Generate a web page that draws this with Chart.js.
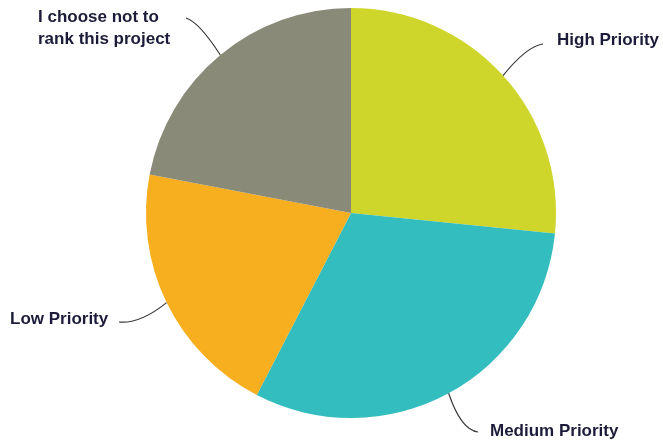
<!DOCTYPE html>
<html>
<head>
<meta charset="utf-8">
<script src="https://cdn.jsdelivr.net/npm/chart.js@4"></script>
<style>
  html, body { margin: 0; padding: 0; background: #fff; }
  #wrap { width: 663px; height: 442px; position: relative; }
</style>
</head>
<body>
<div id="wrap"><canvas id="graph"></canvas></div>
<script>
// categories clockwise from 12 o'clock
const categorias = ['High Priority', 'Medium Priority', 'Low Priority', 'I choose not to rank this project'];
const valores = [26.6, 31.0, 20.4, 22.0];
const colores = ['#ced62c', '#34bdbe', '#f7ae1f', '#8a8a78'];

// where each label sits and how its leader line bends
const etiquetas = [
    { lineas: ['High Priority'], x: 557, y: 45, fin: [543, 44], ctrl: [527, 46] },
    { lineas: ['Medium Priority'], x: 490, y: 436, fin: [478, 432], ctrl: [461, 430] },
    { lineas: ['Low Priority'], x: 10, y: 324, fin: [119, 322], ctrl: [140, 324] },
    { lineas: ['I choose not to', 'rank this project'], x: 38, y: 22, fin: [186, 18], ctrl: [199, 22] }
];

const guias = {
    id: 'guias',
    afterDatasetsDraw(chart) {
        const ctx = chart.ctx;
        const meta = chart.getDatasetMeta(0);
        ctx.save();
        meta.data.forEach((arco, i) => {
            const p = arco.getProps(['x', 'y', 'startAngle', 'endAngle', 'outerRadius'], true);
            const medio = (p.startAngle + p.endAngle) / 2;
            const ex = p.x + Math.cos(medio) * p.outerRadius;
            const ey = p.y + Math.sin(medio) * p.outerRadius;
            const e = etiquetas[i];
            //linea guia
            ctx.beginPath();
            ctx.moveTo(ex, ey);
            ctx.quadraticCurveTo(e.ctrl[0], e.ctrl[1], e.fin[0], e.fin[1]);
            ctx.strokeStyle = '#3a3a3a';
            ctx.lineWidth = 1.2;
            ctx.stroke();
            //texto
            ctx.font = 'bold 17px "Liberation Sans", Arial, sans-serif';
            ctx.fillStyle = '#1c1c3a';
            ctx.textAlign = 'left';
            ctx.textBaseline = 'alphabetic';
            e.lineas.forEach((t, n) => ctx.fillText(t, e.x, e.y + n * 22));
        });
        ctx.restore();
    }
};

document.addEventListener('DOMContentLoaded', () => {
    const graph = document.querySelector('#graph');
    new Chart(graph, {
        type: 'pie',
        data: {
            labels: categorias,
            datasets: [{
                data: valores,
                backgroundColor: colores,
                borderWidth: 0
            }]
        },
        options: {
            responsive: true,
            maintainAspectRatio: false,
            animation: false,
            layout: { padding: { left: 39, right: 0, top: 8, bottom: 24 } },
            plugins: {
                legend: { display: false },
                tooltip: { enabled: false }
            }
        },
        plugins: [guias]
    });
});
</script>
</body>
</html>
